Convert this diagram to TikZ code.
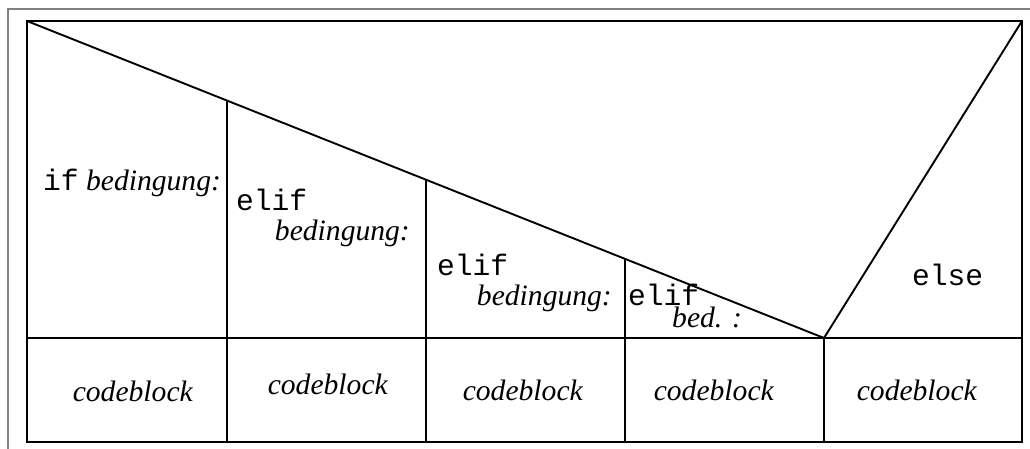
\documentclass[tikz,border=0pt]{standalone}
\usepackage{fontspec}
\setmainfont{Liberation Serif}
\setmonofont{Liberation Mono}
\begin{document}
\begin{tikzpicture}[x=1pt,y=-1pt]
\tikzset{
  frameline/.style={draw=black, line width=1.9pt, line join=miter},
  outerline/.style={draw=black!50, line width=1.2pt},
  txt/.style={inner sep=0pt, font=\fontsize{29.6}{32}\selectfont},
}
\useasboundingbox (0,0) rectangle (1030,448);
% outer gray frame (cut off at right and bottom)
\draw[outerline] (8,460) -- (8,9) -- (1040,9);
% named corners
\coordinate (tl) at (27,21);
\coordinate (tr) at (1022,21);
\coordinate (bl) at (27,442);
\coordinate (br) at (1022,442);
\coordinate (ml) at (27,338);
\coordinate (mr) at (1022,338);
\coordinate (apex) at (824,338);
\coordinate (d1) at (227,100.5);
\coordinate (d2) at (426,180);
\coordinate (d3) at (625,259);
\coordinate (b1) at (227,442);
\coordinate (b2) at (426,442);
\coordinate (b3) at (625,442);
\coordinate (b4) at (824,442);
% box
\draw[frameline] (tl) rectangle (br);
\draw[frameline] (ml) -- (mr);
\draw[frameline] (tl) -- (apex) -- (tr);
\draw[frameline] (d1) -- (b1);
\draw[frameline] (d2) -- (b2);
\draw[frameline] (d3) -- (b3);
\draw[frameline] (apex) -- (b4);
% texts
\node[txt, anchor=base west] (if1) at (43,190) {\texttt{if} \textit{bedingung:}};
\node[txt, anchor=base west] (e2) at (236,210) {\texttt{elif}};
\node[txt, anchor=base east] (c2) at (410,240) {\textit{bedingung:}};
\node[txt, anchor=base west] (e3) at (437,275) {\texttt{elif}};
\node[txt, anchor=base east] (c3) at (612,305) {\textit{bedingung:}};
\node[txt, anchor=base west] (e4) at (628,305) {\texttt{elif}};
\node[txt, anchor=base west] (c4) at (672,327) {\textit{bed. :}};
\node[txt, anchor=base west] (el) at (912,285) {\texttt{else}};
\node[txt, anchor=base] (k1) at (133,401) {\textit{codeblock}};
\node[txt, anchor=base] (k2) at (328,394) {\textit{codeblock}};
\node[txt, anchor=base] (k3) at (523,400) {\textit{codeblock}};
\node[txt, anchor=base] (k4) at (714,400) {\textit{codeblock}};
\node[txt, anchor=base] (k5) at (917,400) {\textit{codeblock}};
\end{tikzpicture}
\end{document}
